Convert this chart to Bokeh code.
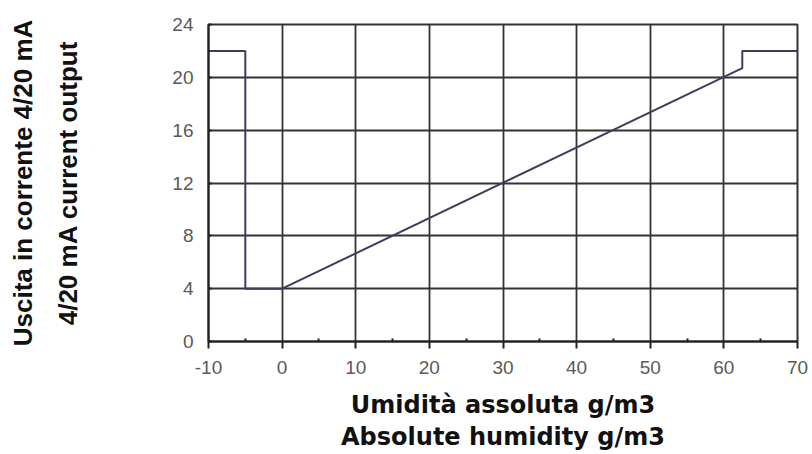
from bokeh.plotting import figure
from bokeh.models import Range1d, FixedTicker, LinearAxis, ColumnDataSource, PrintfTickFormatter
from bokeh.embed import file_html
from bokeh.resources import INLINE

# Data
humidity = [-10, -5, -5, 0, 62.5, 62.5, 70]      # g/m3
current = [22, 22, 4, 4, 20.7, 22, 22]            # mA
x_ticks = [-10, 0, 10, 20, 30, 40, 50, 60, 70]
x_minor = [-5, 5, 15, 25, 35, 45, 55, 65]
y_ticks = [0, 4, 8, 12, 16, 20, 24]
x_title = ["Umidità assoluta g/m3", "Absolute humidity g/m3"]
y_title = ["Uscita in corrente 4/20 mA", "4/20 mA current output"]

p = figure(width=812, height=454, output_backend="svg", toolbar_location=None,
           x_range=Range1d(-10, 70), y_range=Range1d(0, 24),
           min_border_left=208, min_border_right=15,
           min_border_top=24, min_border_bottom=113)

p.background_fill_color = "white"
p.border_fill_color = "white"
p.outline_line_color = "#333333"
p.outline_line_width = 2

p.xaxis.ticker = FixedTicker(ticks=x_ticks, minor_ticks=x_minor)
p.yaxis.ticker = FixedTicker(ticks=y_ticks)
p.xaxis.formatter = PrintfTickFormatter(format="%d")
p.yaxis.formatter = PrintfTickFormatter(format="%d")

for ax in (p.xaxis, p.yaxis):
    ax.axis_line_color = "#222222"
    ax.axis_line_width = 2
    ax.major_tick_line_color = "#222222"
    ax.major_tick_line_width = 2
    ax.minor_tick_line_color = "#222222"
    ax.minor_tick_line_width = 2
    ax.major_label_text_font = "Liberation Sans"
    ax.major_label_text_font_size = "19px"
    ax.major_label_text_color = "#5a5a5a"
    ax.axis_label_text_font_style = "bold"
    ax.axis_label_text_color = "#111111"

p.xaxis.major_tick_out = 7
p.xaxis.major_tick_in = 0
p.xaxis.minor_tick_in = 3
p.xaxis.minor_tick_out = 0
p.xaxis.major_label_standoff = 12
p.xaxis.axis_label = x_title[0]
p.xaxis.axis_label_text_font = "DejaVu Sans"
p.xaxis.axis_label_text_font_size = "24px"
p.xaxis.axis_label_standoff = 14

p.yaxis.major_tick_out = 0
p.yaxis.major_tick_in = 3
p.yaxis.minor_tick_line_color = None
p.yaxis.major_label_standoff = 15
p.yaxis.axis_label = y_title[1]
p.yaxis.axis_label_text_font = "Liberation Sans"
p.yaxis.axis_label_text_font_size = "26px"
p.yaxis.axis_label_standoff = 86

# second title lines as tick-less extra axes
x2 = LinearAxis(ticker=FixedTicker(ticks=[]), axis_label=x_title[1],
                axis_line_color=None, major_tick_line_color=None,
                minor_tick_line_color=None, major_tick_out=0, major_tick_in=0,
                minor_tick_out=0, minor_tick_in=0, major_label_standoff=0,
                axis_label_standoff=1, axis_label_text_font="DejaVu Sans",
                axis_label_text_font_size="24px", axis_label_text_font_style="bold",
                axis_label_text_color="#111111")
p.add_layout(x2, "below")

y2 = LinearAxis(ticker=FixedTicker(ticks=[]), axis_label=y_title[0],
                axis_line_color=None, major_tick_line_color=None,
                minor_tick_line_color=None, major_tick_out=0, major_tick_in=0,
                minor_tick_out=0, minor_tick_in=0, major_label_standoff=0,
                axis_label_standoff=13, axis_label_text_font="Liberation Sans",
                axis_label_text_font_size="26px", axis_label_text_font_style="bold",
                axis_label_text_color="#111111")
p.add_layout(y2, "left")

p.xgrid.ticker = FixedTicker(ticks=x_ticks)
p.ygrid.ticker = FixedTicker(ticks=y_ticks)
for g in (p.xgrid, p.ygrid):
    g.grid_line_color = "#333333"
    g.grid_line_width = 1.8

src = ColumnDataSource(dict(x=humidity, y=current))
p.line("x", "y", source=src, line_color="#3d3d5c", line_width=2)

open("out.html", "w").write(file_html(p, INLINE))
